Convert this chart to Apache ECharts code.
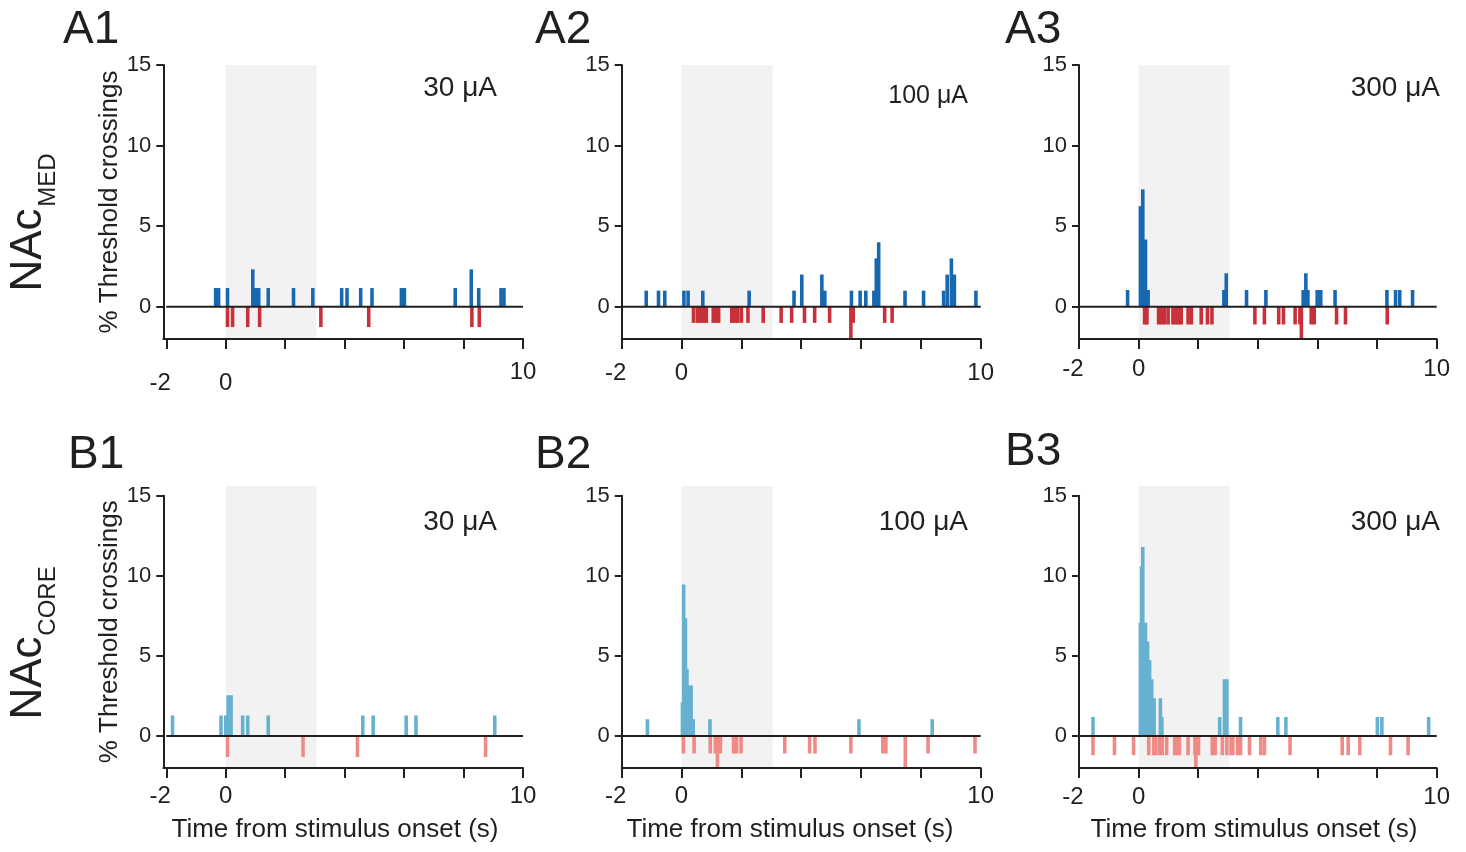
<!DOCTYPE html>
<html>
<head>
<meta charset="utf-8">
<script src="https://cdn.jsdelivr.net/npm/echarts@6/dist/echarts.min.js"></script>
<style>
html,body{margin:0;padding:0;background:#fff;}
#chart{width:1466px;height:852px;}
</style>
</head>
<body>
<div id="chart"></div>
<script>
// ---- data (time bin start in s, % threshold crossings) ----
const panelNames = ['A1','A2','A3','B1','B2','B3'];
const currents = ['30 μA','100 μA','300 μA','30 μA','100 μA','300 μA'];
const xTickValues = [-2, 0, 2, 4, 6, 8, 10];
const xTickLabels = [-2, 0, 10];
const yTickLabels = [0, 5, 10, 15];
const stimulus = [0, 3.05];
const BIN = 0.12;

const a1Up = [[-0.4,1.16],[-0.3,1.16],[0.0,1.16],[0.85,2.32],[0.95,1.16],[1.05,1.16],[1.37,1.16],[2.22,1.16],[2.87,1.16],[3.84,1.16],[4.02,1.16],[4.48,1.16],[4.86,1.16],[5.85,1.16],[5.95,1.16],[7.66,1.16],[8.2,2.32],[8.45,1.16],[9.2,1.16],[9.3,1.16]];
const a1Down = [[0.0,-1.26],[0.17,-1.26],[0.68,-1.26],[1.08,-1.26],[3.14,-1.26],[4.75,-1.26],[8.22,-1.26],[8.47,-1.26]];

const a2Up = [[-1.24,1],[-0.83,1],[-0.62,1],[0.02,1],[0.16,1],[0.65,1],[2.2,1],[3.7,1],[3.96,2],[4.63,2],[4.73,1],[5.62,1],[5.91,1],[6.1,1],[6.37,1],[6.45,3],[6.53,4],[7.41,1],[8.03,1],[8.7,1],[8.82,2],[8.96,3],[9.06,2],[9.78,1]];
const a2Down = [[0.34,-1],[0.47,-1],[0.57,-1],[0.67,-1],[0.77,-1],[1.0,-1],[1.1,-1],[1.18,-1],[1.62,-1],[1.72,-1],[1.82,-1],[1.94,-1],[2.16,-1],[2.67,-1],[3.27,-1],[3.62,-1],[4.05,-1],[4.39,-1],[4.89,-1],[5.6,-2.1],[5.68,-1],[6.73,-1],[6.98,-1]];

const a3Up = [[-0.43,1.04],[0.0,6.24],[0.08,7.28],[0.17,4.17],[0.26,1.04],[2.8,1.04],[2.88,2.08],[3.56,1.04],[4.21,1.04],[5.46,1.04],[5.55,2.08],[5.62,1.04],[5.93,1.04],[6.05,1.04],[6.53,1.04],[8.27,1.04],[8.56,1.04],[8.7,1.04],[9.13,1.04]];
const a3Down = [[0.14,-1.1],[0.22,-1.1],[0.61,-1.1],[0.71,-1.1],[0.81,-1.1],[0.93,-1.1],[1.09,-1.1],[1.19,-1.1],[1.29,-1.1],[1.37,-1.1],[1.6,-1.1],[1.71,-1.1],[2.04,-1.1],[2.25,-1.1],[2.4,-1.1],[3.84,-1.1],[4.16,-1.1],[4.64,-1.1],[4.8,-1.1],[5.19,-1.1],[5.35,-1.1],[5.4,-2.2],[5.73,-1.1],[5.83,-1.1],[6.58,-1.1],[6.88,-1.1],[8.28,-1.1]];

const b1Up = [[-1.85,1.27],[-0.22,1.27],[-0.06,1.27],[0.02,2.54],[0.12,2.54],[0.51,1.27],[0.68,1.27],[1.37,1.27],[4.55,1.27],[4.9,1.27],[6.01,1.27],[6.34,1.27],[8.99,1.27]];
const b1Down = [[0.0,-1.31],[2.54,-1.31],[4.37,-1.31],[8.68,-1.31]];

const b2Up = [[-1.2,1.05],[-0.03,2.1],[0.01,9.45],[0.07,7.35],[0.12,4.2],[0.18,3.15],[0.26,3.15],[0.33,1.05],[0.89,1.05],[5.87,1.05],[8.32,1.05]];
const b2Down = [[0.0,-1.1],[0.36,-1.1],[0.9,-1.1],[1.07,-1.1],[1.14,-2.3],[1.24,-1.1],[1.68,-1.1],[1.78,-1.1],[1.93,-1.1],[3.39,-1.1],[4.22,-1.1],[4.4,-1.1],[5.6,-1.1],[6.67,-1.1],[6.77,-1.1],[7.42,-2.3],[8.18,-1.1],[9.75,-1.1]];

const b3Up = [[-1.59,1.18],[0.0,7.07],[0.04,10.6],[0.08,11.8],[0.17,7.07],[0.24,5.9],[0.31,4.72],[0.38,3.54],[0.46,2.36],[0.67,2.36],[0.72,1.18],[2.66,1.18],[2.82,3.54],[2.9,3.54],[3.36,1.18],[4.61,1.18],[4.88,1.18],[7.95,1.18],[8.1,1.18],[9.67,1.18]];
const b3Down = [[-1.59,-1.2],[-0.87,-1.2],[-0.23,-1.2],[0.28,-1.2],[0.45,-1.2],[0.52,-1.2],[0.65,-1.2],[0.73,-1.2],[0.88,-1.2],[1.15,-1.2],[1.25,-1.2],[1.31,-1.2],[1.6,-1.2],[1.83,-1.2],[1.86,-2.4],[1.95,-1.2],[2.41,-1.2],[2.51,-1.2],[2.75,-1.2],[2.9,-1.2],[3.04,-1.2],[3.1,-1.2],[3.26,-1.2],[3.36,-1.2],[3.66,-1.2],[4.04,-1.2],[4.16,-1.2],[5.02,-1.2],[6.77,-1.2],[6.97,-1.2],[7.36,-1.2],[8.39,-1.2],[8.98,-1.2]];

const upData = [a1Up, a2Up, a3Up, b1Up, b2Up, b3Up];
const downData = [a1Down, a2Down, a3Down, b1Down, b2Down, b3Down];

// ---- layout / style ----
const INK = '#231f20';
const FONT = '"Liberation Sans", Arial, Helvetica, sans-serif';
const upColors = ['#1767b1','#1767b1','#1767b1','#66b0d0','#66b0d0','#66b0d0'];
const downColors = ['#c8303a','#c8303a','#c8303a','#f08a84','#f08a84','#f08a84'];
const grids = [
  {left:163.3, top:65, width:359.7, height:274},
  {left:621.7, top:65, width:359, height:274},
  {left:1079, top:65, width:357.7, height:274},
  {left:163.3, top:495.7, width:359.7, height:272.3},
  {left:621.7, top:495.7, width:359, height:272.3},
  {left:1079, top:495.7, width:357.7, height:272.3}
];
const xMins = [-2.1, -2, -2, -2.1, -2, -2];
const labelMargins = [21, 22, 18, 16, 16, 17];
const shadeTops = [15, 15, 15, 15.6, 15.6, 15.6];

const xAxes = [], yAxes = [], series = [];
for (let i = 0; i < 6; i++) {
  const lowered = (i === 0) ? 11 : 0;
  const base = {fontSize:24, color:INK, fontFamily:FONT};
  const lbl = {
    customValues: xTickLabels, fontSize: 24, color: INK, fontFamily: FONT, margin: labelMargins[i],
    formatter: v => (v === 10 ? '{n|10}' : (v < 0 ? '{m|' + v + '}' : '{z|' + v + '}')),
    rich: {
      n: Object.assign({}, base),
      m: Object.assign({padding:[lowered, 12, 0, 0]}, base),
      z: Object.assign({padding:[lowered, 0, 0, 0]}, base)
    }
  };
  xAxes.push({
    type:'value', gridIndex:i, min:xMins[i], max:10, z:5,
    axisLine:{show:true, onZero:false, lineStyle:{color:INK, width:2}},
    axisTick:{show:true, customValues:xTickValues, length:10, lineStyle:{color:INK, width:2}},
    axisLabel:lbl,
    splitLine:{show:false}
  });
  const ya = {
    type:'value', gridIndex:i, min:-2, max:15, z:5,
    axisLine:{show:true, onZero:false, lineStyle:{color:INK, width:2}},
    axisTick:{show:true, customValues:yTickLabels, length:7, lineStyle:{color:INK, width:2}},
    axisLabel:{customValues:yTickLabels, fontSize:22, color:INK, fontFamily:FONT, margin:12},
    splitLine:{show:false}
  };
  if (i === 0 || i === 3) {
    ya.name = '% Threshold crossings';
    ya.nameLocation = 'middle';
    ya.nameRotate = 90;
    ya.nameGap = 37;
    ya.nameTextStyle = {fontSize:26, color:INK, fontFamily:FONT};
  }
  yAxes.push(ya);

  const top = shadeTops[i];
  series.push({
    type:'custom', xAxisIndex:i, yAxisIndex:i, z:1, clip:false, silent:true,
    data:[stimulus], encode:{x:[0,1]},
    renderItem:(params, api) => {
      const a = api.coord([api.value(0), top]);
      const b = api.coord([api.value(1), -2]);
      return {type:'rect', shape:{x:a[0], y:a[1], width:b[0]-a[0], height:b[1]-a[1]}, style:{fill:'#f2f2f2'}};
    }
  });
  [[upData[i], upColors[i]], [downData[i], downColors[i]]].forEach(([d, col]) => {
    series.push({
      type:'custom', xAxisIndex:i, yAxisIndex:i, z:3, clip:true, silent:true,
      data:d, encode:{x:0, y:1},
      renderItem:(params, api) => {
        const t = api.value(0), h = api.value(1);
        const a = api.coord([t, 0]);
        const b = api.coord([t + BIN, h]);
        return {type:'rect', shape:{x:a[0], y:Math.min(a[1], b[1]), width:b[0]-a[0], height:Math.abs(b[1]-a[1])}, style:{fill:col}};
      }
    });
  });
  series.push({
    type:'line', xAxisIndex:i, yAxisIndex:i, z:4, silent:true, symbol:'none',
    data:[[-2,0],[10,0]], lineStyle:{color:INK, width:2}
  });
}

function txt(x, y, text, size, align, vAlign, extra) {
  return Object.assign({
    type:'text', x:x, y:y, z:10, silent:true,
    style:{text:text, font:size + 'px ' + FONT, fill:INK, align:align, verticalAlign:vAlign, textAlign:align, textVerticalAlign:vAlign}
  }, extra || {});
}

const graphics = [];
const panelPos = [[63,30],[535,30],[1005,30],[68,455],[535,455],[1005,452]];
panelPos.forEach((p, i) => graphics.push(txt(p[0], p[1], panelNames[i], 46, 'left', 'middle')));
const curPos = [[497,88,28],[968,96,25],[1440,88,28],[497,522,28],[968,522,28],[1440,522,28]];
curPos.forEach((p, i) => graphics.push(txt(p[0], p[1], currents[i], p[2], 'right', 'middle')));
[[335,830],[790,830],[1254,830]].forEach(p => graphics.push(txt(p[0], p[1], 'Time from stimulus onset (s)', 26, 'center', 'middle')));
graphics.push(txt(29, 250, 'NAc', 44, 'center', 'middle', {rotation:Math.PI/2}));
graphics.push(txt(48, 180, 'MED', 24, 'center', 'middle', {rotation:Math.PI/2}));
graphics.push(txt(29, 678, 'NAc', 44, 'center', 'middle', {rotation:Math.PI/2}));
graphics.push(txt(48, 601, 'CORE', 24, 'center', 'middle', {rotation:Math.PI/2}));

const chart = echarts.init(document.getElementById('chart'), null, {renderer:'canvas'});
chart.setOption({
  animation:false,
  backgroundColor:'#ffffff',
  textStyle:{fontFamily:FONT},
  grid:grids,
  xAxis:xAxes,
  yAxis:yAxes,
  series:series,
  graphic:graphics
});
</script>
</body>
</html>
